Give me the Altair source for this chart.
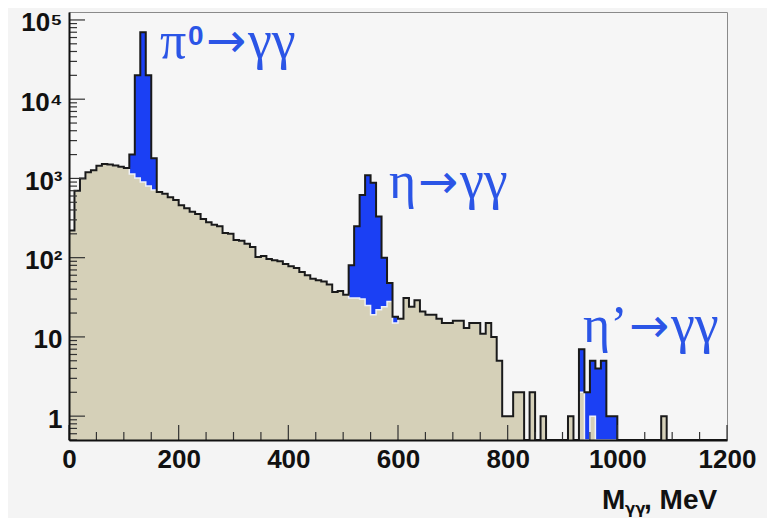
import altair as alt
import pandas as pd

# ---------------- data (10 MeV bins, lower edges 0..1190) ----------------
bin_width = 10
bin_lo = list(range(0, 1200, bin_width))

background = [
    220, 700, 1000, 1200, 1270, 1450, 1520, 1500, 1460, 1400,
    1350, 1140, 1010, 900, 800, 715, 675, 640, 580, 535,
    460, 420, 380, 355, 307, 280, 260, 250, 205, 200,
    167, 163, 150, 136, 102, 105, 96, 93, 90, 83,
    78, 74, 66, 60, 54, 52, 50, 46, 37, 38,
    34, 31, 31, 30, 25, 19, 22, 24, 28, 15,
    17, 31, 24, 29, 21, 19, 19, 17, 15, 15,
    16, 16, 13, 15, 15, 11, 15, 10, 5, 1,
    1, 2, 2, 0, 2, 0, 1, 0, 0, 0,
    0, 1, 0, 2, 0, 1, 0, 0, 0, 0,
    0, 0, 0, 0, 0, 0, 0, 0, 1, 0,
    0, 0, 0, 0, 0, 0, 0, 0, 0, 0,
]

total = [
    220, 700, 1000, 1200, 1270, 1450, 1520, 1500, 1460, 1400,
    1350, 2000, 20000, 70000, 20000, 1800, 675, 640, 580, 535,
    460, 420, 380, 355, 307, 280, 260, 250, 205, 200,
    167, 163, 150, 136, 102, 105, 96, 93, 90, 83,
    78, 74, 66, 60, 54, 52, 50, 46, 37, 38,
    34, 80, 250, 620, 1100, 880, 330, 100, 48, 18,
    17, 31, 24, 29, 21, 19, 19, 17, 15, 15,
    16, 16, 13, 15, 15, 11, 15, 10, 5, 1,
    1, 2, 2, 0, 2, 0, 1, 0, 0, 0,
    0, 1, 0, 7, 2, 5, 4, 5, 1, 1,
    0, 0, 0, 0, 0, 0, 0, 0, 1, 0,
    0, 0, 0, 0, 0, 0, 0, 0, 0, 0,
]

x_ticks_major = [0, 200, 400, 600, 800, 1000, 1200]
x_ticks_minor = [v for v in range(50, 1200, 50) if v % 200 != 0]
y_ticks_major = [1, 10, 100, 1000, 10000, 100000]
y_ticks_minor = [m * 10 ** k for k in range(-1, 5) for m in range(2, 10) if 0.5 <= m * 10 ** k <= 126000]

# ---------------- tables ----------------
edges = bin_lo + [bin_lo[-1] + bin_width]
steps = pd.DataFrame({
    "edge": edges,
    "total": total + [total[-1]],
    "bkg": background + [background[-1]],
})

W, H = 658, 428
BLUE = "#1b40f4"
TAN = "#d5d0b8"
TEXT_BLUE = "#2b55e6"

xscale = alt.Scale(domain=[0, 1200], nice=False, zero=False)
yscale = alt.Scale(type="log", domain=[0.5, 126000], nice=False, clamp=True)

x_axis = alt.Axis(values=x_ticks_major, ticks=False, grid=False, title=None, format="d",
                  labelFont="Liberation Sans", labelFontSize=26, labelFontWeight="bold",
                  labelColor="#111", labelPadding=6, domainColor="#111", domainWidth=2,
                  zindex=1, labelFlush=False)
y_axis = alt.Axis(values=y_ticks_major, ticks=False, grid=False, title=None,
                  labelFont="Liberation Sans", labelFontSize=26, labelFontWeight="bold",
                  labelColor="#111", labelPadding=7, domainColor="#111", domainWidth=2,
                  zindex=1, labelOffset=3,
                  labelExpr="datum.value == 1 ? '1' : datum.value == 10 ? '10' : "
                            "datum.value == 100 ? '10²' : datum.value == 1000 ? '10³' : "
                            "datum.value == 10000 ? '10⁴' : '10⁵'")

sbase = alt.Chart(steps)


def fill_area(field, color):
    return sbase.transform_calculate(v=f"max(datum.{field}, 0.3)").mark_area(
        interpolate="step-after", color=color, opacity=1
    ).encode(
        x=alt.X("edge:Q", scale=xscale, axis=x_axis),
        y=alt.Y("v:Q", scale=yscale, axis=y_axis),
        y2=alt.datum(0.3),
    )


def step_line(field, color, width):
    return sbase.transform_calculate(v=f"max(datum.{field}, 0.3)").mark_line(
        interpolate="step-after", color=color, strokeWidth=width
    ).encode(
        x=alt.X("edge:Q", scale=xscale, axis=x_axis),
        y=alt.Y("v:Q", scale=yscale, axis=y_axis),
    )


total_fill = fill_area("total", BLUE)
bkg_fill = fill_area("bkg", TAN)
bkg_line = step_line("bkg", "#eef0f8", 1.5)
total_line = step_line("total", "#1a1a1a", 2)

# inward ROOT-style ticks
ytm = alt.Chart(pd.DataFrame({"t": y_ticks_major})).mark_rule(color="#333", strokeWidth=1.2).encode(
    y=alt.Y("t:Q", scale=yscale, axis=y_axis), x=alt.value(0), x2=alt.value(16))
ytn = alt.Chart(pd.DataFrame({"t": y_ticks_minor})).mark_rule(color="#333", strokeWidth=1.2).encode(
    y=alt.Y("t:Q", scale=yscale, axis=y_axis), x=alt.value(0), x2=alt.value(8))
xtm = alt.Chart(pd.DataFrame({"t": x_ticks_major})).mark_rule(color="#333", strokeWidth=1.2).encode(
    x=alt.X("t:Q", scale=xscale, axis=x_axis), y=alt.value(H - 15), y2=alt.value(H))
xtn = alt.Chart(pd.DataFrame({"t": x_ticks_minor})).mark_rule(color="#333", strokeWidth=1.2).encode(
    x=alt.X("t:Q", scale=xscale, axis=x_axis), y=alt.value(H - 8), y2=alt.value(H))


def label(text, px, py, size, font="Liberation Serif", color=TEXT_BLUE, weight="normal",
          align="left", baseline="alphabetic"):
    return alt.Chart(pd.DataFrame({"s": [text]})).mark_text(
        align=align, baseline=baseline, font=font, fontSize=size, color=color, fontWeight=weight
    ).encode(x=alt.value(px), y=alt.value(py), text="s:N")


def arrow(px, py):
    return label("→", px, py, 48, font="DejaVu Sans", baseline="middle")


annotations = (
    label("π", 91, 46, 52)
    + label("0", 119, 33, 28, font="Liberation Sans", weight="bold")
    + arrow(137, 31)
    + label("γγ", 179, 46, 54)
    + label("η", 320, 186, 52)
    + arrow(349, 172)
    + label("γγ", 391, 186, 54)
    + label("η’", 514, 330, 52)
    + arrow(560, 316)
    + label("γγ", 602, 330, 54)
)
xtitle = (
    label("M", 533, 497, 28, font="Liberation Sans", color="#111", weight="bold")
    + label("γγ", 556, 502, 15, font="DejaVu Sans", color="#111", weight="bold")
    + label(", MeV", 575, 497, 28, font="Liberation Sans", color="#111", weight="bold")
)

chart = alt.layer(
    total_fill, bkg_fill, bkg_line, total_line, ytm, ytn, xtm, xtn, annotations, xtitle
).properties(
    width=W, height=H, background="#f4f4f4",
    padding={"left": 61, "top": 4, "right": 40, "bottom": 78},
    autosize=alt.AutoSizeParams(type="none"),
).configure_view(
    stroke="#8a8a8a", strokeWidth=1, fill="#f6f6f6"
)

chart.save("out.html", embed_options={"renderer": "svg", "actions": False})
